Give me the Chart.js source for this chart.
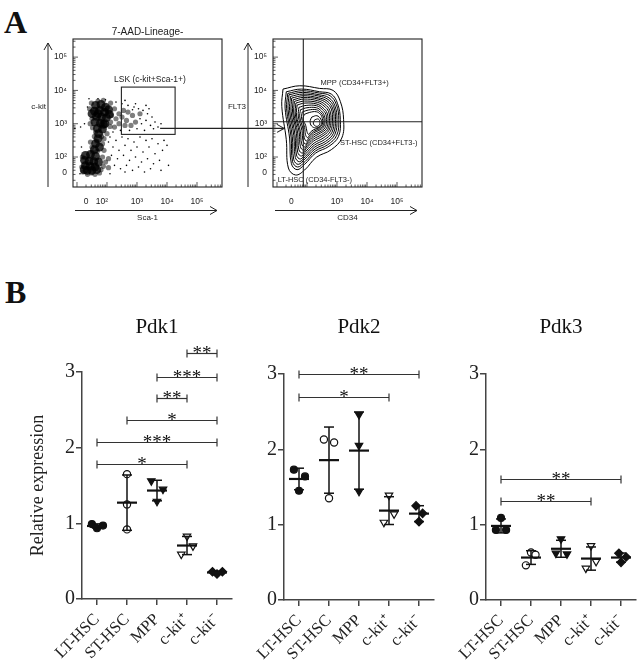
<!DOCTYPE html>
<html><head><meta charset="utf-8">
<script src="https://cdn.jsdelivr.net/npm/chart.js@4.4.0/dist/chart.umd.min.js"></script>
<style>
html,body{margin:0;padding:0;background:#fff;overflow:hidden;width:640px;height:667px;}
#root{position:relative;width:640px;height:667px;overflow:hidden;background:#fff;}
canvas{position:absolute;}
.panel{position:absolute;font-family:'Liberation Serif',serif;font-weight:bold;font-size:32px;line-height:1;color:#111;}
</style></head><body>
<div id="root">
<div class="panel" style="left:4px;top:6px">A</div>
<div class="panel" style="left:5px;top:276px">B</div>
<canvas id="flow1" width="300" height="230" style="left:0;top:0"></canvas>
<canvas id="flow2" width="215" height="230" style="left:225px;top:0"></canvas>
<canvas id="pdk1" width="248" height="377" style="left:0;top:290px"></canvas>
<canvas id="pdk2" width="206" height="377" style="left:244px;top:290px"></canvas>
<canvas id="pdk3" width="210" height="377" style="left:446px;top:290px"></canvas>
</div>
<script>
// ---------------- Panel B data ----------------
const categories = ['LT-HSC', 'ST-HSC', 'MPP', 'c-kit\u207A', 'c-kit\u207B'];
const panelTitles = ['Pdk1', 'Pdk2', 'Pdk3'];
const yTickValues = [0, 1, 2, 3];

const pdk1Values = [[0.99, 0.935, 0.97], [1.65, 1.25, 0.92], [1.56, 1.45, 1.29], [0.83, 0.70, 0.59], [0.36, 0.33, 0.36]];
const pdk1Jitter = [[-0.17, 0, 0.2], [0, 0, 0], [-0.19, 0.2, 0], [0, 0.2, -0.19], [-0.15, 0, 0.18]];
const pdk2Values = [[1.73, 1.64, 1.45], [2.13, 2.09, 1.35], [2.46, 2.05, 1.44], [1.39, 1.14, 1.03], [1.25, 1.15, 1.04]];
const pdk2Jitter = [[-0.17, 0.2, 0], [-0.17, 0.17, 0], [0, 0, 0], [0, 0.17, -0.17], [-0.1, 0.12, 0]];
const pdk3Values = [[1.09, 0.93, 0.93], [0.63, 0.60, 0.46], [0.81, 0.62, 0.61], [0.72, 0.51, 0.42], [0.62, 0.57, 0.50]];
const pdk3Jitter = [[0, -0.17, 0.17], [0, 0.15, -0.17], [0, -0.17, 0.2], [0, 0.17, -0.17], [-0.07, 0.17, 0]];

// [from group, to group, bar height, stars]
const pdk1Sig = [[3, 4, 3.25, '**'], [2, 4, 2.93, '***'], [2, 3, 2.66, '**'], [1, 4, 2.36, '*'], [0, 4, 2.07, '***'], [0, 3, 1.79, '*']];
const pdk2Sig = [[0, 4, 3.0, '**'], [0, 3, 2.69, '*']];
const pdk3Sig = [[0, 4, 1.61, '**'], [0, 3, 1.32, '**']];

// ---------------- Panel A data (axis units = decades on display scale) ----------------
const flowTickLabels = ['0', '10\u00B2', '10\u00B3', '10\u2074', '10\u2075'];
const sca1TickValues = [1.30, 1.83, 3, 4, 5];
const ckitTickValues = [1.53, 2, 3, 4, 5];
const cd34TickLabels = ['0', '10\u00B3', '10\u2074', '10\u2075'];
const cd34TickValues = [1.48, 3, 4, 5];
const flt3TickValues = [1.53, 2, 3, 4, 5];
const lskGate = [2.48, 4.27, 2.68, 4.10];
const cd34Gate = 1.877;
const flt3Gate = 3.06;

const denseCells = [[1.62,3.55],[1.80,3.58],[1.95,3.50],[1.58,3.38],[1.75,3.40],[1.92,3.35],[2.05,3.42],[1.65,3.22],[1.82,3.20],[1.98,3.18],[1.60,3.05],[1.78,3.02],[1.93,3.00],[1.68,2.86],[1.85,2.84],[1.72,2.70],[1.88,2.98],[1.70,3.30],[1.50,3.30],[2.08,3.28],
  [1.70,2.55],[1.62,2.40],[1.75,2.30],[1.58,2.22],
  [1.28,2.05],[1.45,2.08],[1.62,2.02],[1.25,1.90],[1.40,1.88],[1.56,1.86],[1.72,1.85],[1.28,1.74],[1.44,1.72],[1.60,1.70],[1.34,1.60],[1.50,1.60],[1.66,1.62],[1.24,1.62]];
const midCells = [[1.48,3.62],[2.12,3.62],[2.15,3.25],[2.10,2.92],[1.50,3.15],[1.52,2.88],[2.00,2.70],[1.58,2.62],[1.90,2.55],[1.45,2.45],[1.85,2.40],[1.90,2.20],[1.50,2.30],
  [1.70,3.68],[1.88,3.70],[1.42,3.45],[1.44,3.00],[2.12,3.05],[1.62,2.75],[1.82,2.62],[1.66,2.48],[1.68,2.18],[1.52,2.15],
  [2.25,3.45],[2.40,3.30],[2.30,3.15],[2.55,3.40],[2.50,3.20],[2.70,3.35],[2.65,3.10],[2.85,3.25],[2.40,3.00],[2.60,2.95],[2.25,2.90],[2.95,3.05],[3.10,3.30],[2.80,2.95],
  [1.18,2.00],[1.16,1.70],[1.85,2.00],[1.88,1.72],[1.95,1.85],[1.35,1.48],[1.60,1.48],[1.75,1.52],[2.05,1.95],[2.05,1.68],[1.20,1.55],[1.48,1.52],[1.80,1.62]];
const sparseCells = [[2.3,3.65],[2.5,3.6],[2.7,3.55],[2.9,3.5],[3.05,3.45],[3.2,3.4],[3.35,3.3],[3.5,3.2],[3.6,3.05],[3.45,2.95],[3.3,3.1],[3.15,3.0],[3.0,2.85],[3.25,2.8],[3.55,2.85],[3.7,2.9],[2.75,2.8],[2.45,2.8],[2.2,2.75],[3.4,3.45],[2.95,3.6],[2.6,3.7],[3.8,3.0],[3.1,3.15],[2.85,3.42],[3.3,3.55],
  [2.1,2.6],[2.3,2.5],[2.5,2.6],[2.7,2.55],[2.9,2.45],[3.1,2.6],[3.3,2.5],[3.5,2.55],[3.7,2.4],[3.9,2.5],[2.2,2.3],[2.4,2.2],[2.6,2.35],[2.8,2.2],[3.0,2.3],[3.2,2.15],[3.4,2.3],[3.6,2.1],[3.85,2.2],[4.0,2.35],[2.15,2.05],[2.35,1.95],[2.55,2.05],[2.75,1.9],[2.95,2.0],[3.15,1.85],[3.35,1.95],[3.55,1.8],[3.75,1.9],[4.05,1.75],[2.25,1.75],[2.45,1.65],[2.65,1.75],[2.85,1.6],[3.05,1.7],[3.25,1.55],[3.45,1.65],[2.1,1.5],[2.6,1.55],[3.8,1.6],
  [1.15,2.3],[1.1,1.5],[1.25,3.0],[1.35,3.5],[1.4,3.75],[1.7,3.75],[1.95,3.72],[2.05,2.45],[1.12,2.9],[0.93,2.86]];

const contours = [
  [[1.20,4.04],[1.76,4.14],[2.42,4.06],[2.87,4.00],[3.11,3.67],[3.22,3.12],[3.16,2.57],[2.81,2.22],[2.31,1.99],[1.92,1.61],[1.62,1.46],[1.38,1.67],[1.31,2.52],[1.16,3.52]],
  [[1.31,3.96],[1.81,4.04],[2.42,3.96],[2.81,3.89],[3.02,3.60],[3.11,3.12],[3.05,2.62],[2.73,2.32],[2.29,2.12],[1.92,1.78],[1.67,1.62],[1.48,1.80],[1.42,2.57],[1.27,3.47]],
  [[1.36,3.91],[1.83,3.99],[2.41,3.92],[2.77,3.84],[2.98,3.57],[3.06,3.12],[2.99,2.65],[2.69,2.37],[2.28,2.18],[1.93,1.86],[1.69,1.70],[1.52,1.86],[1.47,2.60],[1.32,3.45]],
  [[1.40,3.87],[1.85,3.94],[2.40,3.87],[2.73,3.78],[2.93,3.54],[3.00,3.12],[2.93,2.68],[2.65,2.42],[2.27,2.24],[1.93,1.94],[1.71,1.78],[1.56,1.92],[1.51,2.62],[1.37,3.42]],
  [[1.45,3.82],[1.86,3.89],[2.39,3.83],[2.70,3.73],[2.89,3.51],[2.95,3.12],[2.88,2.71],[2.62,2.47],[2.26,2.30],[1.95,2.02],[1.75,1.86],[1.61,1.99],[1.56,2.65],[1.42,3.40]],
  [[1.49,3.77],[1.87,3.84],[2.38,3.78],[2.67,3.68],[2.85,3.47],[2.90,3.12],[2.83,2.74],[2.58,2.52],[2.25,2.36],[1.96,2.10],[1.78,1.94],[1.65,2.06],[1.60,2.67],[1.47,3.37]],
  [[1.54,3.72],[1.88,3.79],[2.37,3.74],[2.64,3.63],[2.81,3.44],[2.85,3.11],[2.78,2.77],[2.54,2.57],[2.24,2.42],[1.97,2.18],[1.82,2.03],[1.69,2.14],[1.65,2.70],[1.52,3.35]],
  [[1.58,3.67],[1.89,3.74],[2.36,3.69],[2.60,3.58],[2.76,3.40],[2.80,3.10],[2.73,2.80],[2.50,2.62],[2.22,2.48],[1.98,2.26],[1.85,2.12],[1.73,2.22],[1.69,2.72],[1.56,3.32]],
  [[1.63,3.62],[1.91,3.68],[2.35,3.64],[2.57,3.53],[2.72,3.36],[2.75,3.09],[2.69,2.83],[2.48,2.67],[2.22,2.54],[2.00,2.34],[1.88,2.21],[1.78,2.31],[1.74,2.74],[1.61,3.29]],
  [[1.67,3.56],[1.93,3.62],[2.33,3.59],[2.53,3.48],[2.67,3.32],[2.70,3.08],[2.65,2.86],[2.45,2.72],[2.22,2.60],[2.02,2.42],[1.91,2.30],[1.82,2.40],[1.78,2.76],[1.65,3.26]],
  [[1.73,3.49],[1.97,3.55],[2.32,3.54],[2.51,3.43],[2.63,3.28],[2.65,3.07],[2.60,2.88],[2.43,2.76],[2.22,2.66],[2.05,2.50],[1.95,2.39],[1.87,2.49],[1.83,2.80],[1.71,3.23]],
  [[1.78,3.42],[2.00,3.48],[2.31,3.48],[2.48,3.38],[2.58,3.24],[2.60,3.06],[2.55,2.90],[2.40,2.80],[2.22,2.72],[2.07,2.58],[1.98,2.48],[1.91,2.58],[1.87,2.84],[1.76,3.20]],
  [[1.84,3.35],[2.04,3.41],[2.31,3.42],[2.46,3.33],[2.55,3.20],[2.56,3.04],[2.51,2.91],[2.38,2.83],[2.22,2.77],[2.09,2.66],[2.02,2.58],[1.95,2.67],[1.92,2.89],[1.82,3.17]],
  [[1.91,3.28],[2.09,3.34],[2.31,3.36],[2.45,3.28],[2.51,3.16],[2.52,3.02],[2.47,2.92],[2.36,2.86],[2.22,2.82],[2.11,2.74],[2.05,2.68],[2.00,2.76],[1.96,2.94],[1.87,3.14]],
  [[2.16,3.20],[2.33,3.24],[2.46,3.14],[2.48,3.00],[2.40,2.90],[2.25,2.88],[2.13,2.96],[2.11,3.10]],
  [[2.26,3.12],[2.38,3.14],[2.43,3.04],[2.39,2.94],[2.28,2.93],[2.21,3.02]]
];

// ---------------- styles ----------------
const markerStyle = [
  {style: 'circle', r: 3.5, fill: '#111', rot: 0},
  {style: 'circle', r: 3.6, fill: '#fff', rot: 0},
  {style: 'triangle', r: 4.3, fill: '#111', rot: 180},
  {style: 'triangle', r: 4.3, fill: '#fff', rot: 180},
  {style: 'rectRot', r: 4.2, fill: '#111', rot: 0}
];

Chart.defaults.font.family = "'Liberation Serif', serif";
Chart.defaults.color = '#222';
Chart.defaults.animation = false;

function mean(a) { return a.reduce((s, v) => s + v, 0) / a.length; }
function sd(a) { const m = mean(a); return Math.sqrt(a.reduce((s, v) => s + (v - m) * (v - m), 0) / (a.length - 1)); }
function seg(ctx, x1, y1, x2, y2) { ctx.beginPath(); ctx.moveTo(x1, y1); ctx.lineTo(x2, y2); ctx.stroke(); }
function head(ctx, x, y, dir) {
  ctx.beginPath();
  if (dir === 'up') { ctx.moveTo(x - 4, y + 7); ctx.lineTo(x, y); ctx.lineTo(x + 4, y + 7); }
  else { ctx.moveTo(x - 7, y - 4); ctx.lineTo(x, y); ctx.lineTo(x - 7, y + 4); }
  ctx.stroke();
}

function pdkDecor(title, values, sig) {
  return {
    id: 'pdkDecor',
    afterDatasetsDraw(chart) {
      const {ctx, chartArea: a, scales: {x, y}} = chart;
      ctx.save();
      ctx.strokeStyle = '#111';
      values.forEach((vals, i) => {
        const m = mean(vals), s = sd(vals);
        const px = x.getPixelForValue(i);
        const yt = y.getPixelForValue(m + s), yb = y.getPixelForValue(m - s), ym = y.getPixelForValue(m);
        ctx.lineWidth = 1.5;
        seg(ctx, px, yt, px, yb);
        seg(ctx, px - 5, yt, px + 5, yt);
        seg(ctx, px - 5, yb, px + 5, yb);
        ctx.lineWidth = 2.2;
        seg(ctx, px - 10, ym, px + 10, ym);
      });
      sig.forEach(([i, j, v, t]) => {
        const x1 = x.getPixelForValue(i), x2 = x.getPixelForValue(j), yy = Math.round(y.getPixelForValue(v)) + 0.5;
        ctx.strokeStyle = '#333'; ctx.lineWidth = 1.2;
        seg(ctx, x1, yy, x2, yy);
        seg(ctx, x1, yy - 4, x1, yy + 4);
        seg(ctx, x2, yy - 4, x2, yy + 4);
        ctx.fillStyle = '#111';
        ctx.font = "19px 'Liberation Serif'";
        ctx.textAlign = 'center'; ctx.textBaseline = 'alphabetic';
        ctx.fillText(t, (x1 + x2) / 2, yy + 5);
      });
      ctx.fillStyle = '#111';
      ctx.font = "21px 'Liberation Serif'";
      ctx.textAlign = 'center'; ctx.textBaseline = 'middle';
      ctx.fillText(title, (a.left + a.right) / 2, 37);
      ctx.restore();
    }
  };
}

function buildPdk(id, title, values, jitter, sig, lay, showYTitle) {
  const datasets = categories.map((c, i) => ({
    label: c,
    data: values[i].map((v, k) => ({x: i + jitter[i][k], y: v})),
    pointStyle: markerStyle[i].style,
    rotation: markerStyle[i].rot,
    pointRadius: markerStyle[i].r,
    pointBackgroundColor: markerStyle[i].fill,
    pointBorderColor: '#111',
    pointBorderWidth: 1.2
  }));
  const axisGrid = {display: true, drawOnChartArea: false, drawTicks: true, tickLength: 6, color: '#444', lineWidth: 1.5};
  const axisBorder = {display: true, color: '#444', width: 1.5};
  new Chart(document.getElementById(id), {
    type: 'scatter',
    data: {datasets},
    options: {
      responsive: false, animation: false, events: [],
      layout: {padding: lay.padding},
      plugins: {legend: {display: false}, tooltip: {enabled: false}},
      scales: {
        x: {
          type: 'linear', min: -0.5, max: 4.5,
          afterBuildTicks: s => { s.ticks = categories.map((c, i) => ({value: i})); },
          afterFit: s => { s.height = lay.xh; },
          ticks: {callback: (v, i) => categories[i], minRotation: 45, maxRotation: 45, font: {size: 16.5}, color: '#222', padding: 5},
          grid: axisGrid, border: axisBorder
        },
        y: {
          type: 'linear', min: 0, max: 3,
          afterBuildTicks: s => { s.ticks = yTickValues.map(v => ({value: v})); },
          afterFit: s => { s.width = lay.yw; },
          ticks: {callback: v => String(v), font: {size: 20}, color: '#222', padding: 1},
          grid: axisGrid, border: axisBorder,
          title: {display: showYTitle, text: 'Relative expression', font: {size: 18}, color: '#222', padding: {top: 4, bottom: 0}}
        }
      }
    },
    plugins: [pdkDecor(title, values, sig)]
  });
}

function flowDecor(cfg) {
  return {
    id: 'flowDecor',
    beforeDatasetsDraw(chart) {
      const {ctx, chartArea: a, scales: {x, y}} = chart;
      ctx.save();
      ctx.strokeStyle = '#333'; ctx.lineWidth = 0.8;
      for (let d = 1; d <= 5; d++) {
        for (let m = 1; m <= 9; m++) {
          const v = d + Math.log10(m), len = m === 1 ? 5 : 2.5;
          if (v > x.min && v < x.max) { const px = x.getPixelForValue(v); seg(ctx, px, a.bottom, px, a.bottom - len); }
          if (v > y.min && v < y.max) { const py = y.getPixelForValue(v); seg(ctx, a.left, py, a.left + len, py); }
        }
      }
      ctx.restore();
    },
    afterDatasetsDraw(chart) {
      const {ctx, chartArea: a, scales: {x, y}} = chart;
      ctx.save();
      ctx.strokeStyle = '#222'; ctx.lineWidth = 1.1;
      ctx.strokeRect(a.left, a.top, a.right - a.left, a.bottom - a.top);
      if (cfg.box) {
        const [x1, x2, y1, y2] = cfg.box;
        const l = x.getPixelForValue(x1), r = x.getPixelForValue(x2), t = y.getPixelForValue(y2), b = y.getPixelForValue(y1);
        ctx.strokeRect(l, t, r - l, b - t);
      }
      if (cfg.quad) {
        const qx = x.getPixelForValue(cfg.quad[0]), qy = y.getPixelForValue(cfg.quad[1]);
        seg(ctx, qx, a.top, qx, a.bottom);
        seg(ctx, a.left, qy, a.right, qy);
      }
      if (cfg.arrow) {
        const [ax1, ay, ax2] = cfg.arrow;
        const p1 = x.getPixelForValue(ax1), p2 = x.getPixelForValue(ax2), py = y.getPixelForValue(ay);
        seg(ctx, p1, py, p2, py); head(ctx, p2, py, 'right');
      }
      ctx.lineWidth = 1;
      const yx = a.left - 25;
      seg(ctx, yx, a.bottom, yx, a.top + 4); head(ctx, yx, a.top + 4, 'up');
      const xy = a.bottom + 23.5;
      seg(ctx, a.left + 2, xy, a.right - 5, xy); head(ctx, a.right - 5, xy, 'right');
      ctx.fillStyle = '#222';
      ctx.font = "8px 'Liberation Sans'";
      ctx.textBaseline = 'middle';
      ctx.textAlign = 'right';
      ctx.fillText(cfg.yLabel, yx - 2, 107);
      ctx.textAlign = 'center';
      ctx.fillText(cfg.xLabel, (a.left + a.right) / 2, a.bottom + 30.5);
      if (cfg.title) {
        ctx.font = "10px 'Liberation Sans'";
        ctx.fillText(cfg.title, (a.left + a.right) / 2, a.top - 6.5);
      }
      cfg.texts.forEach(t => {
        ctx.font = t.size + "px 'Liberation Sans'";
        ctx.fillText(t.text, x.getPixelForValue(t.x), y.getPixelForValue(t.y));
      });
      ctx.restore();
    }
  };
}

function buildFlow(id, datasets, xTicks, xLabels, yTicks, yLabels, lay, cfg) {
  new Chart(document.getElementById(id), {
    type: 'scatter',
    data: {datasets},
    options: {
      responsive: false, animation: false, events: [],
      layout: {padding: lay.padding},
      plugins: {legend: {display: false}, tooltip: {enabled: false}},
      scales: {
        x: {
          type: 'linear', min: 0.867, max: 5.833,
          afterBuildTicks: s => { s.ticks = xTicks.map(v => ({value: v})); },
          afterFit: s => { s.height = 30; },
          ticks: {callback: (v, i) => xLabels[i], maxRotation: 0, minRotation: 0, font: {family: "'Liberation Sans'", size: 8.5}, color: '#222', padding: 10},
          grid: {display: false, drawTicks: false}, border: {display: false}
        },
        y: {
          type: 'linear', min: 1.10, max: 5.544,
          afterBuildTicks: s => { s.ticks = yTicks.map(v => ({value: v})); },
          afterFit: s => { s.width = lay.yw; },
          ticks: {callback: (v, i) => yLabels[i], font: {family: "'Liberation Sans'", size: 8.5}, color: '#222', padding: 6},
          grid: {display: false, drawTicks: false}, border: {display: false}
        }
      }
    },
    plugins: [flowDecor(cfg)]
  });
}

const toXY = arr => arr.map(p => ({x: p[0], y: p[1]}));

buildFlow('flow1', [
  {data: toXY(sparseCells), pointRadius: 0.8, pointBackgroundColor: '#000', pointBorderWidth: 0},
  {data: toXY(midCells), pointRadius: 2.6, pointBackgroundColor: 'rgba(0,0,0,0.5)', pointBorderWidth: 0},
  {data: toXY(denseCells), pointRadius: 4.4, pointBackgroundColor: 'rgba(0,0,0,0.78)', pointBorderWidth: 0}
], sca1TickValues, flowTickLabels, ckitTickValues, flowTickLabels,
  {padding: {left: 33, top: 39, right: 78, bottom: 13}, yw: 40},
  {title: '7-AAD-Lineage-', xLabel: 'Sca-1', yLabel: 'c-kit', box: lskGate, arrow: [3.77, 2.86, 7.9],
   texts: [{text: 'LSK (c-kit+Sca-1+)', x: 3.43, y: 4.31, size: 8.5}]});

buildFlow('flow2', contours.map(c => ({
  data: toXY(c.concat([c[0]])), showLine: true, tension: 0.4, pointRadius: 0, borderColor: '#000', borderWidth: 1, fill: false
})), cd34TickValues, cd34TickLabels, flt3TickValues, flowTickLabels,
  {padding: {left: 18, top: 39, right: 18, bottom: 13}, yw: 30},
  {title: null, xLabel: 'CD34', yLabel: 'FLT3', quad: [cd34Gate, flt3Gate],
   texts: [{text: 'MPP (CD34+FLT3+)', x: 3.59, y: 4.22, size: 7.5},
           {text: 'ST-HSC (CD34+FLT3-)', x: 4.39, y: 2.42, size: 7.5},
           {text: 'LT-HSC (CD34-FLT3-)', x: 2.26, y: 1.31, size: 7.5}]});

buildPdk('pdk1', panelTitles[0], pdk1Values, pdk1Jitter, pdk1Sig, {padding: {left: 23, top: 82, right: 16, bottom: 0}, yw: 59, xh: 68}, true);
buildPdk('pdk2', panelTitles[1], pdk2Values, pdk2Jitter, pdk2Sig, {padding: {left: 0, top: 84, right: 16, bottom: 0}, yw: 40, xh: 67}, false);
buildPdk('pdk3', panelTitles[2], pdk3Values, pdk3Jitter, pdk3Sig, {padding: {left: 0, top: 84, right: 20, bottom: 0}, yw: 40, xh: 67}, false);
</script>
</body></html>
